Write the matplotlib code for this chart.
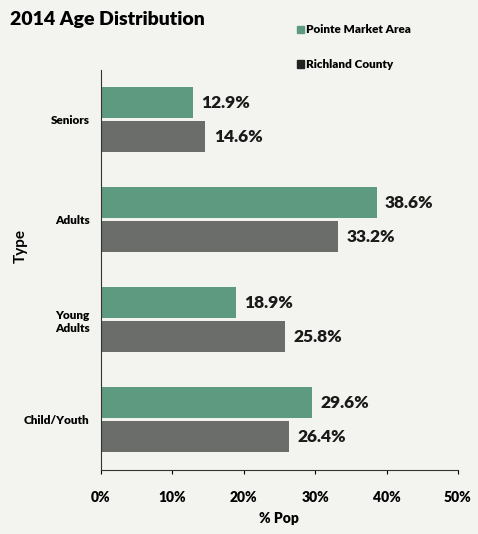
import matplotlib.pyplot as plt
import numpy as np
from matplotlib.patches import Rectangle

plt.rcParams["font.family"] = ["Lato", "DejaVu Sans"]
plt.rcParams["font.weight"] = "heavy"

categories = ["Child/Youth", "Young\nAdults", "Adults", "Seniors"]
pointe = [29.6, 18.9, 38.6, 12.9]
richland = [26.4, 25.8, 33.2, 14.6]
xticks = [0, 10, 20, 30, 40, 50]

GREEN = "#5e9a80"
GRAY = "#6a6d6a"
BG = "#f3f3ef"
W = "heavy"

fig = plt.figure(figsize=(4.78, 5.34), dpi=100, facecolor=BG)
ax = fig.add_axes([0.211, 0.12, 0.747, 0.749])
ax.set_facecolor(BG)

y = np.arange(len(categories))
h = 0.31
ax.barh(y + h / 2 + 0.015, pointe, height=h, color=GREEN)
ax.barh(y - h / 2 - 0.015, richland, height=h, color=GRAY)

for yi, v in zip(y, pointe):
    ax.text(v + 1.2, yi + h / 2 + 0.015, f"{v}%", va="center", ha="left",
            fontsize=12.5, fontweight=W, color="#1a1a1a")
for yi, v in zip(y, richland):
    ax.text(v + 1.2, yi - h / 2 - 0.015, f"{v}%", va="center", ha="left",
            fontsize=12.5, fontweight=W, color="#1a1a1a")

ax.set_xlim(0, 50)
ax.set_ylim(-0.5, 3.5)
ax.set_xticks(xticks)
ax.set_xticklabels([f"{t}%" for t in xticks], fontsize=10, fontweight=W)
ax.set_yticks(y)
ax.set_yticklabels(categories, fontsize=8.5, fontweight=W)
ax.tick_params(axis="y", length=0, pad=8)
ax.tick_params(axis="x", length=3, pad=12)

for side in ["top", "right"]:
    ax.spines[side].set_visible(False)
ax.spines["left"].set_color("#333333")
ax.spines["bottom"].set_color("#333333")

ax.set_xlabel("% Pop", fontsize=10, fontweight=W, labelpad=6)
ax.set_ylabel("Type", fontsize=11, fontweight="bold")
ax.yaxis.set_label_coords(-0.205, 0.56)

fig.text(0.02, 0.963, "2014 Age Distribution", fontsize=14, fontweight=W,
         ha="left", va="center")

# legend
fig.patches.append(Rectangle((0.621, 0.938), 0.014, 0.014, color=GREEN,
                             transform=fig.transFigure))
fig.text(0.641, 0.945, "Pointe Market Area", fontsize=8.5, fontweight=W,
         ha="left", va="center")
fig.patches.append(Rectangle((0.621, 0.873), 0.014, 0.014, color="#222222",
                             transform=fig.transFigure))
fig.text(0.641, 0.880, "Richland County", fontsize=8.5, fontweight=W,
         ha="left", va="center")

fig.savefig("out.png", dpi=100, facecolor=BG)
